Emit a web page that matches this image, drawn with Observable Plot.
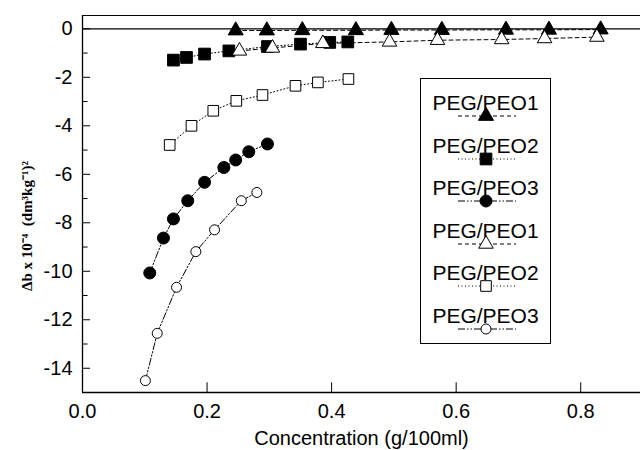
<!DOCTYPE html>
<html>
<head>
<meta charset="utf-8">
<script src="https://cdn.jsdelivr.net/npm/d3@7"></script>
<script src="https://cdn.jsdelivr.net/npm/@observablehq/plot@0.6"></script>
<style>
  body { margin: 0; background: #fff; }
  #wrap { position: relative; width: 640px; height: 450px; overflow: hidden; font-family: "Liberation Sans", Arial, sans-serif; }
  #legend { position: absolute; left: 420px; top: 78px; width: 131px; height: 266px; border: 1px solid #000; background: #fff; box-sizing: border-box; }
  .lab { position: absolute; left: 0; width: 129px; text-align: center; font-size: 21px; line-height: 24px; color: #000; }
  .sym { position: absolute; left: 0; }
</style>
</head>
<body>
<div id="wrap"><div id="legend"></div></div>
<script>
// ---- data ----
const seriesNames = ["PEG/PEO1", "PEG/PEO2", "PEG/PEO3", "PEG/PEO1", "PEG/PEO2", "PEG/PEO3"];

const peo1FilledX = [0.246, 0.296, 0.353, 0.439, 0.496, 0.577, 0.680, 0.749, 0.832];
const peo1FilledY = [-0.07, -0.07, -0.06, -0.06, -0.05, -0.05, -0.04, -0.04, -0.03];

const peo2FilledX = [0.146, 0.167, 0.196, 0.235, 0.297, 0.350, 0.397, 0.426];
const peo2FilledY = [-1.29, -1.18, -1.04, -0.91, -0.73, -0.63, -0.56, -0.54];

const peo3FilledX = [0.108, 0.130, 0.146, 0.169, 0.196, 0.227, 0.246, 0.267, 0.297];
const peo3FilledY = [-10.07, -8.63, -7.84, -7.09, -6.33, -5.72, -5.41, -5.07, -4.75];

const peo1OpenX = [0.252, 0.305, 0.386, 0.493, 0.570, 0.673, 0.742, 0.826];
const peo1OpenY = [-0.91, -0.79, -0.60, -0.54, -0.47, -0.44, -0.40, -0.34];

const peo2OpenX = [0.140, 0.175, 0.210, 0.247, 0.289, 0.342, 0.378, 0.427];
const peo2OpenY = [-4.79, -4.00, -3.38, -2.97, -2.73, -2.35, -2.21, -2.07];

const peo3OpenX = [0.101, 0.120, 0.151, 0.182, 0.212, 0.255, 0.280];
const peo3OpenY = [-14.51, -12.56, -10.66, -9.19, -8.29, -7.09, -6.75];

const xTicks = [0.0, 0.2, 0.4, 0.6, 0.8];
const xTickLabels = ["0.0", "0.2", "0.4", "0.6", "0.8"];
const yTicks = [0, -2, -4, -6, -8, -10, -12, -14];
const yTickLabels = ["0", "-2", "-4", "-6", "-8", "-10", "-12", "-14"];
const yMinorTicks = [-1, -3, -5, -7, -9, -11, -13];

const xTitle = "Concentration (g/100ml)";
const yTitle = "\u0394b x 10\u207B\u2074  (dm\u00B3kg\u207B\u00B9)\u00B2";

// ---- styles per series ----
const styles = [
  {symbol: "triangle", fill: "black", r: 5.6, dash: "4,3"},
  {symbol: "square",   fill: "black", r: 6.6, dash: "1,2.5"},
  {symbol: "circle",   fill: "black", r: 6.0, dash: "7,2,1.5,2,1.5,2"},
  {symbol: "triangle", fill: "white", r: 5.4, dash: "4,3"},
  {symbol: "square",   fill: "white", r: 6.0, dash: "1,2.5"},
  {symbol: "circle",   fill: "white", r: 5.0, dash: "7,2,1.5,2,1.5,2"}
];
const xs = [peo1FilledX, peo2FilledX, peo3FilledX, peo1OpenX, peo2OpenX, peo3OpenX];
const ys = [peo1FilledY, peo2FilledY, peo3FilledY, peo1OpenY, peo2OpenY, peo3OpenY];
const series = xs.map((xa, i) => xa.map((x, j) => ({x, y: ys[i][j]})));

const yDomain = [-15, 0.55];
const xDomain = [0, 0.896];

const marks = [];
// frame lines
marks.push(Plot.ruleY([yDomain[1]], {stroke: "black", strokeWidth: 1.2}));
marks.push(Plot.ruleY([yDomain[0]], {stroke: "black", strokeWidth: 1.5}));
marks.push(Plot.ruleX([0], {stroke: "black", strokeWidth: 1.3}));
marks.push(Plot.ruleY([0], {stroke: "black", strokeWidth: 1.3}));
// inward ticks
marks.push(Plot.ruleX(xTicks, {x: d => d, y1: yDomain[0], y2: yDomain[0] + 0.4, stroke: "black", strokeWidth: 1}));
marks.push(Plot.ruleY(yTicks, {y: d => d, x1: 0, x2: 0.013, stroke: "black", strokeWidth: 1}));
marks.push(Plot.ruleY(yMinorTicks, {y: d => d, x1: 0, x2: 0.009, stroke: "black", strokeWidth: 1}));
// tick labels
marks.push(Plot.text(xTicks, {x: d => d, frameAnchor: "bottom", dy: 19, text: (d, i) => xTickLabels[i], fontSize: 20, fill: "black", lineAnchor: "middle"}));
marks.push(Plot.text(yTicks, {y: d => d, frameAnchor: "left", dx: -10, text: (d, i) => yTickLabels[i], fontSize: 20, fill: "black", textAnchor: "end"}));
// titles
marks.push(Plot.text([xTitle], {frameAnchor: "bottom", dy: 46, text: d => d, fontSize: 20, fill: "black", lineAnchor: "middle"}));
marks.push(Plot.text([yTitle], {frameAnchor: "left", dx: -55, dy: 22, rotate: -90, textAnchor: "middle", lineAnchor: "middle", text: d => d, fontSize: 15, fontWeight: "bold", fontFamily: "'Liberation Serif', 'Times New Roman', serif", fill: "black"}));
// series
series.forEach((data, i) => {
  const s = styles[i];
  marks.push(Plot.line(data, {x: "x", y: "y", stroke: "black", strokeWidth: 1, strokeDasharray: s.dash}));
});
series.forEach((data, i) => {
  const s = styles[i];
  marks.push(Plot.dot(data, {x: "x", y: "y", symbol: () => s.symbol, r: s.r, fill: s.fill, stroke: "black", strokeWidth: 1}));
});

const chart = Plot.plot({
  width: 640,
  height: 450,
  marginLeft: 82,
  marginTop: 15,
  marginBottom: 58,
  marginRight: 0,
  x: {domain: xDomain, axis: null},
  y: {domain: yDomain, axis: null},
  symbol: {type: "identity"},
  style: {fontFamily: "'Liberation Sans', Arial, sans-serif", background: "white", color: "black"},
  marks
});
document.getElementById("wrap").prepend(chart);

// ---- legend (layout overlay) ----
const legend = document.getElementById("legend");
const pitch = 42.6;
seriesNames.forEach((name, i) => {
  const s = styles[i];
  const lab = document.createElement("div");
  lab.className = "lab";
  lab.style.top = (12 + i * pitch) + "px";
  lab.textContent = name;
  legend.appendChild(lab);
  const svg = d3.create("svg").attr("class", "sym").attr("width", 131).attr("height", 18)
    .style("top", (28 + i * pitch) + "px");
  svg.append("line").attr("x1", 37).attr("x2", 95).attr("y1", 9).attr("y2", 9)
    .attr("stroke", "black").attr("stroke-width", 1).attr("stroke-dasharray", s.dash);
  const sym = s.symbol === "triangle" ? d3.symbolTriangle : s.symbol === "square" ? d3.symbolSquare : d3.symbolCircle;
  svg.append("path").attr("d", d3.symbol(sym, Math.PI * s.r * s.r)())
    .attr("transform", "translate(65,9)")
    .attr("fill", s.fill).attr("stroke", "black").attr("stroke-width", 1);
  legend.appendChild(svg.node());
});
</script>
</body>
</html>
